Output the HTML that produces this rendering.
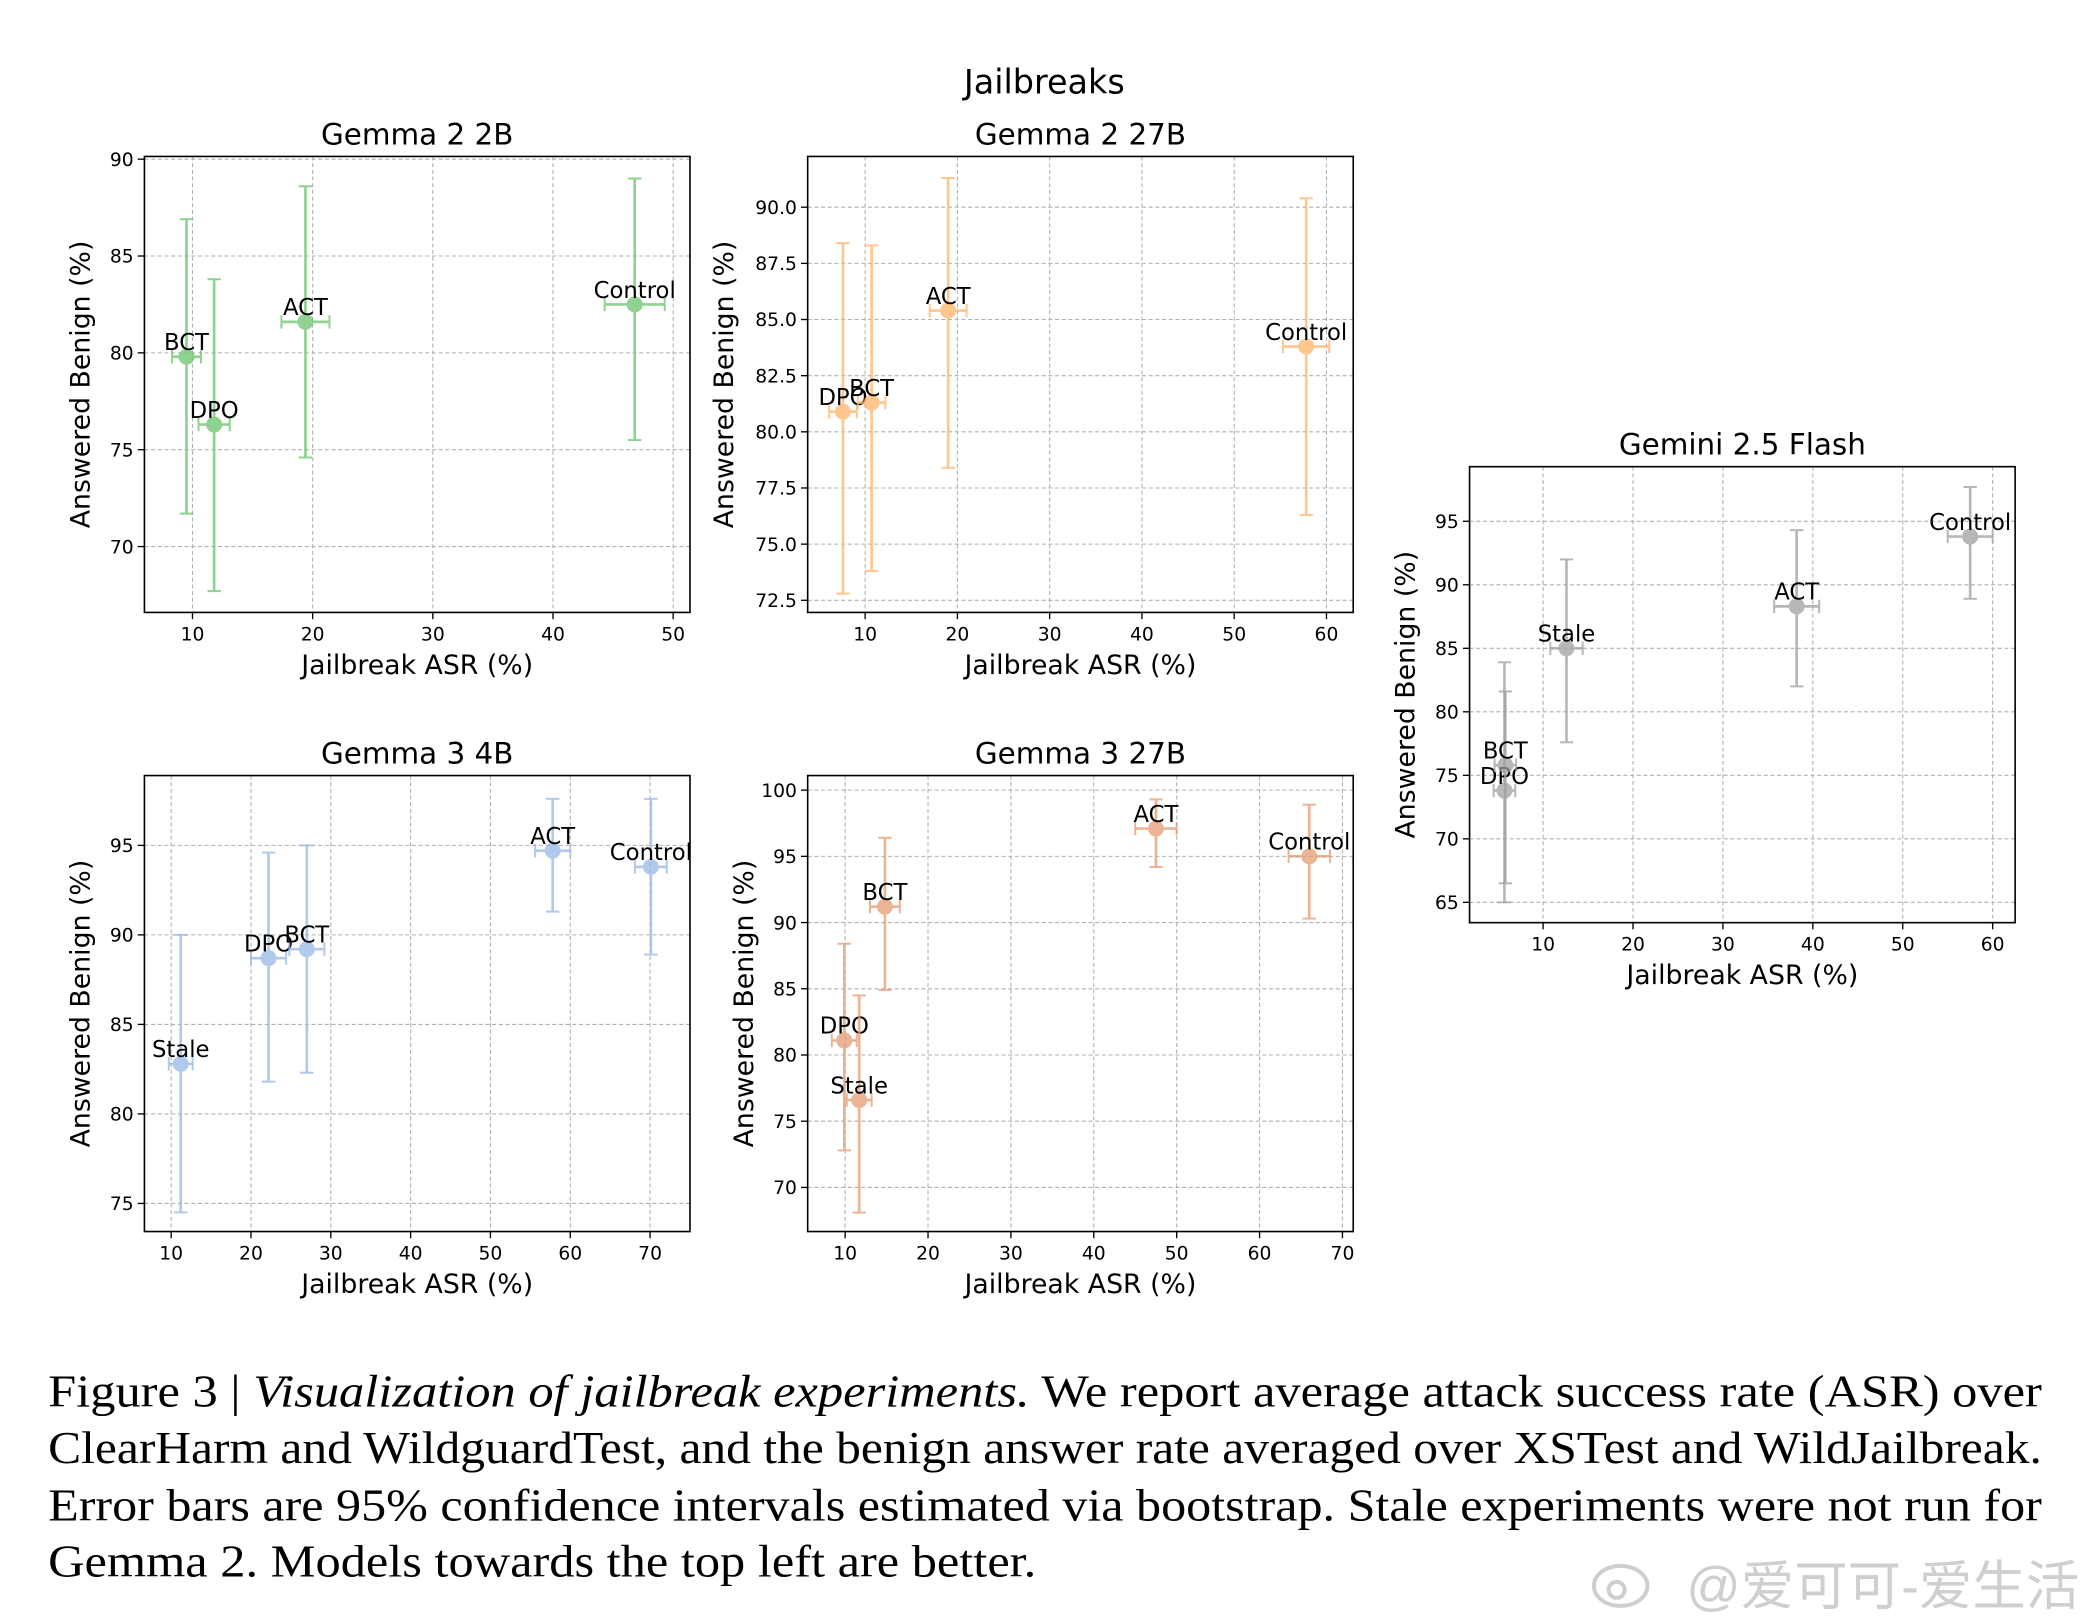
<!DOCTYPE html>
<html><head><meta charset="utf-8"><style>
html,body{margin:0;padding:0;background:#fff;}
svg{display:block;}
</style></head><body>
<svg id="fig" width="2086" height="1624" viewBox="0 0 1560 1214.5" xmlns="http://www.w3.org/2000/svg" font-family="'DejaVu Sans','Liberation Sans',sans-serif">
<text x="781" y="70" font-size="25" text-anchor="middle">Jailbreaks</text>
<g id="plots"></g>
<g font-family="'Liberation Serif',serif" font-size="34">
<text x="36" y="1052" textLength="1491" lengthAdjust="spacingAndGlyphs">Figure 3 | <tspan font-style="italic">Visualization of jailbreak experiments.</tspan> We report average attack success rate (ASR) over</text>
<text x="36" y="1094" textLength="1491" lengthAdjust="spacingAndGlyphs">ClearHarm and WildguardTest, and the benign answer rate averaged over XSTest and WildJailbreak.</text>
<text x="36" y="1137" textLength="1491" lengthAdjust="spacingAndGlyphs">Error bars are 95% confidence intervals estimated via bootstrap. Stale experiments were not run for</text>
<text x="36" y="1179" textLength="739" lengthAdjust="spacingAndGlyphs">Gemma 2. Models towards the top left are better.</text>
</g>
<g fill="none" stroke="#cfcfcf" stroke-width="3">
<ellipse cx="1212" cy="1186" rx="20" ry="15"/>
<circle cx="1209" cy="1189" r="6"/>
</g>
<text x="1555" y="1200" font-size="40" text-anchor="end" fill="#cfcfcf" font-family="'Liberation Sans','Noto Sans CJK SC',sans-serif">@爱可可-爱生活</text>
</svg>
<script>
// Gemma 2 2B
const g22Cats=["BCT","DPO","ACT","Control"];
const g22X=[9.5,11.8,19.4,46.8];
const g22Xerr=[1.2,1.3,2.0,2.5];
const g22Y=[79.8,76.3,81.6,82.5];
const g22Ylo=[71.7,67.7,74.6,75.5];
const g22Yhi=[86.9,83.8,88.6,89.0];
const g22XTicks=[10,20,30,40,50];
const g22YTicks=[70,75,80,85,90];
// Gemma 2 27B
const g227Cats=["DPO","BCT","ACT","Control"];
const g227X=[7.6,10.7,19.0,57.8];
const g227Xerr=[1.5,1.5,2.0,2.5];
const g227Y=[80.9,81.3,85.4,83.8];
const g227Ylo=[72.8,73.8,78.4,76.3];
const g227Yhi=[88.4,88.3,91.3,90.4];
const g227XTicks=[10,20,30,40,50,60];
const g227YTicks=[72.5,75.0,77.5,80.0,82.5,85.0,87.5,90.0];
// Gemma 3 4B
const g34Cats=["Stale","DPO","BCT","ACT","Control"];
const g34X=[11.2,22.2,27.0,57.8,70.1];
const g34Xerr=[1.5,2.2,2.2,2.2,2.0];
const g34Y=[82.8,88.7,89.2,94.7,93.8];
const g34Ylo=[74.5,81.8,82.3,91.3,88.9];
const g34Yhi=[90.0,94.6,95.0,97.6,97.6];
const g34XTicks=[10,20,30,40,50,60,70];
const g34YTicks=[75,80,85,90,95];
// Gemma 3 27B
const g327Cats=["DPO","Stale","BCT","ACT","Control"];
const g327X=[9.9,11.7,14.8,47.5,66.0];
const g327Xerr=[1.5,1.5,1.8,2.5,2.5];
const g327Y=[81.1,76.6,91.2,97.1,95.0];
const g327Ylo=[72.8,68.1,84.9,94.2,90.3];
const g327Yhi=[88.4,84.5,96.4,99.3,98.9];
const g327XTicks=[10,20,30,40,50,60,70];
const g327YTicks=[70,75,80,85,90,95,100];
// Gemini 2.5 Flash
const gfCats=["DPO","BCT","Stale","ACT","Control"];
const gfX=[5.7,5.8,12.6,38.2,57.5];
const gfXerr=[1.2,1.2,1.8,2.5,2.5];
const gfY=[73.8,75.8,85.0,88.3,93.8];
const gfYlo=[65.0,66.5,77.6,82.0,88.9];
const gfYhi=[83.9,81.6,92.0,94.3,97.7];
const gfXTicks=[10,20,30,40,50,60];
const gfYTicks=[65,70,75,80,85,90,95];

const NS="http://www.w3.org/2000/svg";
const root=document.getElementById('plots');
function mk(tag,attrs,parent){const e=document.createElementNS(NS,tag);for(const k in attrs)e.setAttribute(k,attrs[k]);parent.appendChild(e);return e;}

function panel(o){
  const g=mk('g',{},root);
  
  
  const sx=v=>o.x0+(v-o.xmin)/(o.xmax-o.xmin)*(o.x1-o.x0);
  const sy=v=>o.y1-(v-o.ymin)/(o.ymax-o.ymin)*(o.y1-o.y0);
  const t=mk('text',{x:(o.x0+o.x1)/2,y:o.y0-9,'font-size':22,'text-anchor':'middle'},g);
  t.textContent=o.title;
  
  
  o.xt.forEach(v=>{
    const X=sx(v);
    const gl=mk('line',{x1:X,x2:X,y1:o.y0,y2:o.y1,stroke:'#b0b0b0','stroke-width':0.8,'stroke-dasharray':'3,2'},g);
    
    
    mk('line',{x1:X,x2:X,y1:o.y1,y2:o.y1+5,stroke:'#000','stroke-width':1},g);
    const tl=mk('text',{x:X,y:o.y1+21,'font-size':14,'text-anchor':'middle'},g);
    tl.textContent=v;
    
    
  });
  o.yt.forEach(v=>{
    const Y=sy(v);
    const gl=mk('line',{x1:o.x0,x2:o.x1,y1:Y,y2:Y,stroke:'#b0b0b0','stroke-width':0.8,'stroke-dasharray':'3,2'},g);
    
    
    mk('line',{x1:o.x0-5,x2:o.x0,y1:Y,y2:Y,stroke:'#000','stroke-width':1},g);
    const tl=mk('text',{x:o.x0-8,y:Y+5,'font-size':14,'text-anchor':'end'},g);
    tl.textContent=o.yfmt?v.toFixed(1):v;
    
    
  });
  const fr=mk('rect',{x:o.x0,y:o.y0,width:o.x1-o.x0,height:o.y1-o.y0,fill:'none',stroke:'#000','stroke-width':1.2},g);
  
  
  const xl=mk('text',{x:(o.x0+o.x1)/2,y:o.y1+46,'font-size':20,'text-anchor':'middle'},g);
  xl.textContent='Jailbreak ASR (%)';
  
  
  const yc=(o.y0+o.y1)/2, yx=o.yfmt?o.x0-56:o.x0-41;
  const yl=mk('text',{x:yx,y:yc,'font-size':20,'text-anchor':'middle',transform:`rotate(-90 ${yx} ${yc})`},g);
  yl.textContent='Answered Benign (%)';
  
  
  o.cats.forEach((c,i)=>{
    const pg=mk('g',{stroke:o.col,fill:o.col,opacity:0.75},g);
    
    
    const X=sx(o.xs[i]),Y=sy(o.ys[i]),L=sy(o.lo[i]),H=sy(o.hi[i]),XL=sx(o.xs[i]-o.xe[i]),XR=sx(o.xs[i]+o.xe[i]);
    mk('line',{x1:X,x2:X,y1:L,y2:H,'stroke-width':2},pg);
    mk('line',{x1:X-5,x2:X+5,y1:L,y2:L,'stroke-width':1.5},pg);
    mk('line',{x1:X-5,x2:X+5,y1:H,y2:H,'stroke-width':1.5},pg);
    mk('line',{x1:XL,x2:XR,y1:Y,y2:Y,'stroke-width':2},pg);
    mk('line',{x1:XL,x2:XL,y1:Y-5,y2:Y+5,'stroke-width':1.5},pg);
    mk('line',{x1:XR,x2:XR,y1:Y-5,y2:Y+5,'stroke-width':1.5},pg);
    mk('circle',{cx:X,cy:Y,r:6,stroke:'none'},pg);
    const lb=mk('text',{x:X,y:Y-5,'font-size':17,'text-anchor':'middle'},g);
    lb.textContent=c;
    
    
  });
}
panel({name:'panel-gemma-2-2b',title:'Gemma 2 2B',x0:108,x1:516,y0:117,y1:458,xmin:6,xmax:51.4,ymin:66.6,ymax:90.14,xt:g22XTicks,yt:g22YTicks,cats:g22Cats,xs:g22X,xe:g22Xerr,ys:g22Y,lo:g22Ylo,hi:g22Yhi,col:'#6cc46c'});
panel({name:'panel-gemma-2-27b',title:'Gemma 2 27B',x0:604,x1:1012,y0:117,y1:458,xmin:3.77,xmax:62.9,ymin:71.96,ymax:92.26,xt:g227XTicks,yt:g227YTicks,yfmt:true,cats:g227Cats,xs:g227X,xe:g227Xerr,ys:g227Y,lo:g227Ylo,hi:g227Yhi,col:'#ffb468'});
panel({name:'panel-gemma-3-4b',title:'Gemma 3 4B',x0:108,x1:516,y0:580,y1:921,xmin:6.65,xmax:75.0,ymin:73.43,ymax:98.9,xt:g34XTicks,yt:g34YTicks,cats:g34Cats,xs:g34X,xe:g34Xerr,ys:g34Y,lo:g34Ylo,hi:g34Yhi,col:'#98b8e4'});
panel({name:'panel-gemma-3-27b',title:'Gemma 3 27B',x0:604,x1:1012,y0:580,y1:921,xmin:5.48,xmax:71.3,ymin:66.67,ymax:101.1,xt:g327XTicks,yt:g327YTicks,cats:g327Cats,xs:g327X,xe:g327Xerr,ys:g327Y,lo:g327Ylo,hi:g327Yhi,col:'#e39c72'});
panel({name:'panel-gemini-2-5-flash',title:'Gemini 2.5 Flash',x0:1099,x1:1507,y0:349,y1:690,xmin:1.82,xmax:62.5,ymin:63.4,ymax:99.3,xt:gfXTicks,yt:gfYTicks,cats:gfCats,xs:gfX,xe:gfXerr,ys:gfY,lo:gfYlo,hi:gfYhi,col:'#a0a0a0'});
</script>
</body></html>
